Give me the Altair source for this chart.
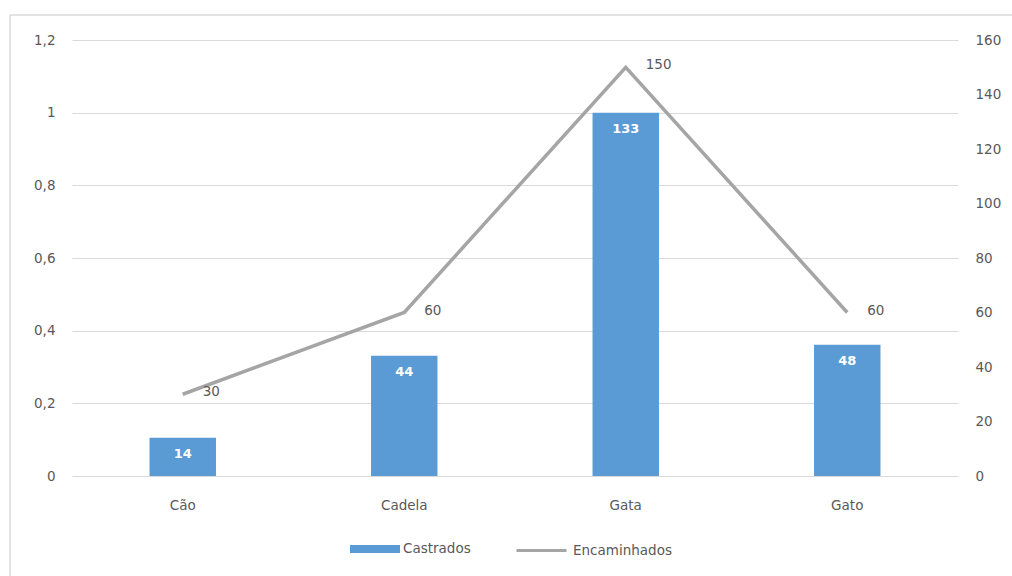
import altair as alt
import pandas as pd

# Data
categorias = ["Cão", "Cadela", "Gata", "Gato"]
castrados = [14, 44, 133, 48]
encaminhados = [30, 60, 150, 60]

df = pd.DataFrame({
    "categoria": categorias,
    "castrados": castrados,
    "encaminhados": encaminhados,
    "serie_barra": ["Castrados"] * 4,
    "serie_linha": ["Encaminhados"] * 4,
})

AZUL = "#5B9BD5"
CINZA = "#A5A5A5"
TEXTO = "#595959"
GRADE = "#D9D9D9"
FONTE = "DejaVu Sans"
FS = 13.5

W, H = 886, 436

x_enc = alt.X(
    "categoria:N",
    sort=categorias,
    scale=alt.Scale(paddingInner=0.7, paddingOuter=0.35),
    axis=alt.Axis(title=None, labelAngle=0, domain=False, ticks=False,
                  labelPadding=22, labelFontSize=FS, labelColor=TEXTO,
                  labelFont=FONTE),
)

base = alt.Chart(df).encode(x=x_enc)

# Left axis: share of the largest count, comma as decimal mark
left_scale = alt.Scale(domain=[0, 1.2], nice=False)
left_axis = alt.Axis(
    title=None, values=[0, 0.2, 0.4, 0.6, 0.8, 1.0, 1.2],
    labelExpr="replace(format(datum.value, '.1~f'), '.', ',')",
    domain=False, ticks=False, grid=True, gridColor=GRADE,
    labelPadding=17, labelFontSize=FS, labelColor=TEXTO, labelFont=FONTE,
)

# Right axis: counts
right_scale = alt.Scale(domain=[0, 160], nice=False)
right_axis = alt.Axis(
    title=None, orient="right", values=list(range(0, 161, 20)),
    domain=False, ticks=False, grid=False, labelPadding=17,
    labelFontSize=FS, labelColor=TEXTO, labelFont=FONTE,
)

barras_base = base.transform_joinaggregate(
    maximo="max(castrados)"
).transform_calculate(
    proporcao="datum.castrados / datum.maximo"
)

barras = barras_base.mark_bar(color=AZUL).encode(
    y=alt.Y("proporcao:Q", scale=left_scale, axis=left_axis),
    color=alt.Color(
        "serie_barra:N",
        scale=alt.Scale(domain=["Castrados"], range=[AZUL]),
        legend=alt.Legend(
            title=None, orient="none", legendX=278, legendY=484,
            direction="horizontal",
            symbolType="M-1,-0.16H1V0.16H-1Z", symbolSize=2500,
            symbolStrokeWidth=0, labelFontSize=FS, labelColor=TEXTO,
            labelFont=FONTE, labelOffset=3,
        ),
    ),
)

rotulos_barras = barras_base.mark_text(
    color="white", fontWeight="bold", fontSize=13, font=FONTE,
    baseline="top", dy=10,
).encode(
    y=alt.Y("proporcao:Q", scale=left_scale, axis=left_axis),
    text=alt.Text("castrados:Q"),
)

layer_esq = alt.layer(barras, rotulos_barras)

linha = base.mark_line(strokeWidth=3.5).encode(
    y=alt.Y("encaminhados:Q", scale=right_scale, axis=right_axis),
    color=alt.Color(
        "serie_linha:N",
        scale=alt.Scale(domain=["Encaminhados"], range=[CINZA]),
        legend=alt.Legend(
            title=None, orient="none", legendX=443, legendY=484,
            direction="horizontal",
            symbolType="stroke", symbolSize=2500, symbolStrokeWidth=3,
            labelFontSize=FS, labelColor=TEXTO, labelFont=FONTE,
            labelOffset=5,
        ),
    ),
)

rotulos_linha = base.mark_text(
    align="left", baseline="middle", dx=20, dy=-2,
    fontSize=FS, color=TEXTO, font=FONTE,
).encode(
    y=alt.Y("encaminhados:Q", scale=right_scale, axis=right_axis),
    text=alt.Text("encaminhados:Q"),
)

layer_dir = alt.layer(linha, rotulos_linha)

# Light frame around the chart area (top and left edges)
moldura_topo = alt.Chart(pd.DataFrame({"k": [0]})).mark_rule(
    color=GRADE, strokeWidth=1.5
).encode(x=alt.value(-62), x2=alt.value(W + 60), y=alt.value(-25))
moldura_esq = alt.Chart(pd.DataFrame({"k": [0]})).mark_rule(
    color=GRADE, strokeWidth=1.5
).encode(x=alt.value(-62), y=alt.value(-25), y2=alt.value(H + 110))

chart = alt.layer(
    layer_esq, layer_dir, moldura_topo, moldura_esq
).resolve_scale(
    y="independent", color="independent"
).properties(
    width=W, height=H,
    autosize=alt.AutoSizeParams(type="none"),
    padding={"left": 72, "top": 40, "right": 54, "bottom": 100},
    background="white",
).configure_view(stroke=None)

chart.save("out.html", embed_options={"renderer": "svg", "actions": False})
